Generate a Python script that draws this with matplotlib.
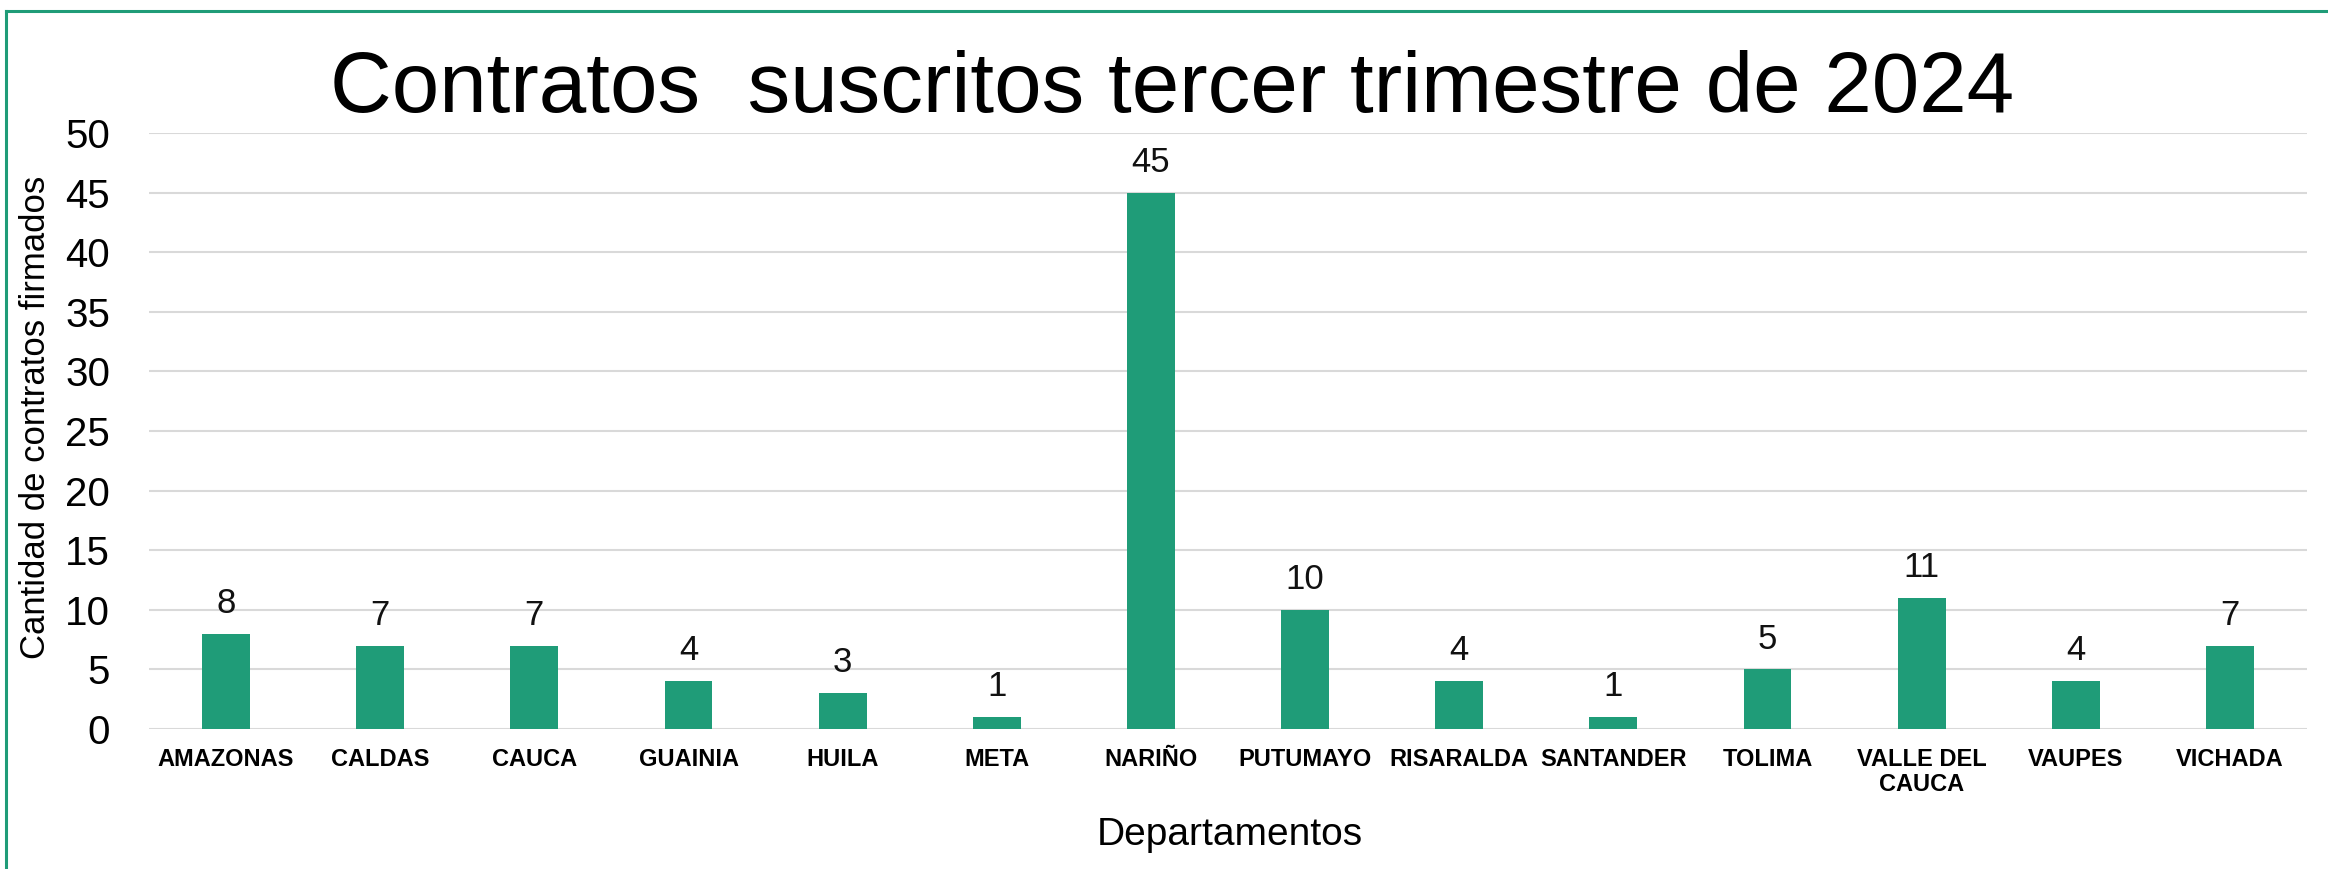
import matplotlib.pyplot as plt
from matplotlib.lines import Line2D
import numpy as np

plt.rcParams['font.family'] = ['Liberation Sans', 'DejaVu Sans']

departamentos = ['AMAZONAS', 'CALDAS', 'CAUCA', 'GUAINIA', 'HUILA', 'META', 'NARIÑO',
                 'PUTUMAYO', 'RISARALDA', 'SANTANDER', 'TOLIMA', 'VALLE DEL\nCAUCA',
                 'VAUPES', 'VICHADA']
contratos = [8, 7, 7, 4, 3, 1, 45, 10, 4, 1, 5, 11, 4, 7]
y_ticks = [0, 5, 10, 15, 20, 25, 30, 35, 40, 45, 50]

W, H = 2328, 869
green = '#1f9c78'

fig = plt.figure(figsize=(W / 100, H / 100), dpi=100)
ax = fig.add_axes([149 / W, 1 - 729 / H, (2307 - 149) / W, (729 - 133) / H])

x = np.arange(len(departamentos))
bars = ax.bar(x, contratos, width=0.31, color=green, zorder=3)

for xi, v in zip(x, contratos):
    ax.annotate(str(v), (xi, v), textcoords='offset points', xytext=(0, 15),
                ha='center', va='baseline', fontsize=25, color='#111111')

ax.set_xlim(-0.5, len(departamentos) - 0.5)
ax.set_ylim(0, 50)
ax.set_yticks(y_ticks)
ax.set_xticks(x)
ax.set_xticklabels(departamentos, fontsize=17, fontweight='bold', linespacing=1.1)
ax.tick_params(axis='x', length=0, pad=14)
ax.tick_params(axis='y', length=0, pad=28, labelsize=29)
ax.yaxis.grid(True, color='#d9d9d9', linewidth=1.5, zorder=0)
ax.set_axisbelow(True)
for s in ax.spines.values():
    s.set_visible(False)

fig.text(36 / W, 1 - 417 / H, 'Cantidad de contratos firmados', rotation=90,
         ha='center', va='center', fontsize=25)
fig.text(1230 / W, 1 - 845 / H, 'Departamentos', ha='center', va='baseline', fontsize=28)
fig.text(1172 / W, 1 - 112 / H, 'Contratos  suscritos tercer trimestre de 2024',
         ha='center', va='baseline', fontsize=61.5)

# green frame (top and left edges)
fig.add_artist(Line2D([6 / W, 1], [1 - 11 / H, 1 - 11 / H], color=green, linewidth=2.2,
                      transform=fig.transFigure))
fig.add_artist(Line2D([6 / W, 6 / W], [0, 1 - 11 / H], color=green, linewidth=2.2,
                      transform=fig.transFigure))

fig.savefig('out.png', dpi=100)
